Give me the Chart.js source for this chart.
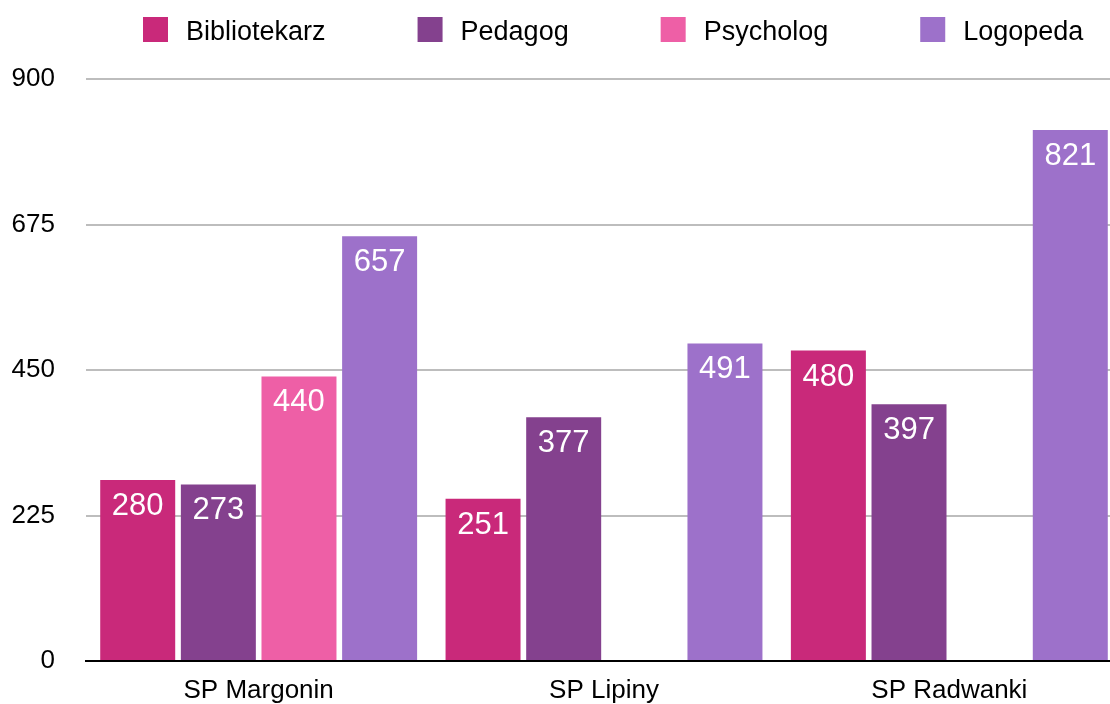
<!DOCTYPE html>
<html>
<head>
<meta charset="utf-8">
<script src="https://cdn.jsdelivr.net/npm/chart.js@4/dist/chart.umd.min.js"></script>
<style>
  html, body { margin: 0; padding: 0; background: #fff; overflow: hidden; }
  #wrap { position: absolute; left: 0; top: 0; width: 1122px; height: 704px; }
</style>
</head>
<body>
<div id="wrap"><canvas id="myChart"></canvas></div>
<script>
// data
const schools = ['SP Margonin', 'SP Lipiny', 'SP Radwanki'];
const bibliotekarz = [280, 251, 480];
const pedagog = [273, 377, 397];
const psycholog = [440, null, null];
const logopeda = [657, 491, 821];
const yTicks = [0, 225, 450, 675, 900];

const fontFamily = '"Liberation Sans", Arial, Helvetica, sans-serif';

// white value labels inside top of each bar
const barValues = {
    id: 'barValues',
    afterDatasetsDraw(chart) {
        const ctx = chart.ctx;
        ctx.save();
        ctx.fillStyle = '#ffffff';
        ctx.font = '31px ' + fontFamily;
        ctx.textAlign = 'center';
        ctx.textBaseline = 'alphabetic';
        chart.data.datasets.forEach((ds, i) => {
            const meta = chart.getDatasetMeta(i);
            meta.data.forEach((bar, j) => {
                const v = ds.data[j];
                if (v == null) return;
                ctx.fillText(String(v), bar.x, bar.y + 35);
            });
        });
        ctx.restore();
    }
};

// legend row across the top
const topLegend = {
    id: 'topLegend',
    afterDraw(chart) {
        const ctx = chart.ctx;
        ctx.save();
        ctx.font = '27px ' + fontFamily;
        ctx.textBaseline = 'alphabetic';
        ctx.textAlign = 'left';
        let x = 143;
        chart.data.datasets.forEach(ds => {
            ctx.fillStyle = ds.backgroundColor;
            ctx.fillRect(x, 17, 25, 25);
            ctx.fillStyle = '#000000';
            ctx.fillText(ds.label, x + 43, 40);
            x += 43 + ctx.measureText(ds.label).width + 92;
        });
        ctx.restore();
    }
};

const chartConfig = {
    labels: schools,
    datasets: [
        { label: 'Bibliotekarz', data: bibliotekarz, backgroundColor: '#C9297A' },
        { label: 'Pedagog', data: pedagog, backgroundColor: '#84418E' },
        { label: 'Psycholog', data: psycholog, backgroundColor: '#EE5FA6' },
        { label: 'Logopeda', data: logopeda, backgroundColor: '#9D71CA' }
    ]
};

const config = {
    type: 'bar',
    data: chartConfig,
    options: {
        responsive: true,
        maintainAspectRatio: false,
        animation: false,
        datasets: {
            bar: { categoryPercentage: 0.934, barPercentage: 0.93 }
        },
        layout: { padding: { top: 79, left: 12, right: 0, bottom: 0 } },
        plugins: {
            legend: { display: false },
            tooltip: { enabled: false }
        },
        scales: {
            y: {
                min: 0,
                max: 900,
                afterBuildTicks: axis => { axis.ticks = yTicks.map(v => ({ value: v })); },
                afterFit: axis => { axis.width = 74; },
                ticks: {
                    color: '#000000',
                    padding: 31,
                    font: { family: fontFamily, size: 26, lineHeight: 0.6 }
                },
                grid: {
                    drawTicks: false,
                    lineWidth: 2,
                    color: ctx => ctx.tick && ctx.tick.value === 0 ? '#000000' : '#bdbdbd'
                },
                border: { display: false }
            },
            x: {
                afterFit: axis => { axis.height = 43; },
                ticks: {
                    color: '#000000',
                    padding: 14,
                    font: { family: fontFamily, size: 26 }
                },
                grid: { display: false, drawTicks: false },
                border: { display: true, color: '#000000', width: 2 }
            }
        }
    },
    plugins: [barValues, topLegend]
};

// render init block
const myChart = new Chart(document.getElementById('myChart'), config);
</script>
</body>
</html>
